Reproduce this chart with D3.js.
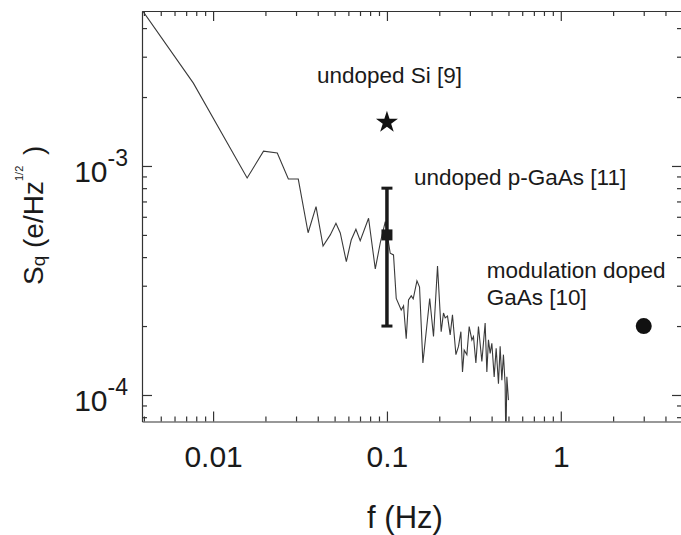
<!DOCTYPE html>
<html>
<head>
<meta charset="utf-8">
<script src="https://cdn.jsdelivr.net/npm/d3@7"></script>
<style>
  body { margin: 0; background: #fff; }
  text { font-family: "Liberation Sans", Arial, sans-serif; fill: #1a1a1a; }
</style>
</head>
<body>
<div id="chart"></div>
<script>
// Measured charge noise spectrum (f in Hz, Sq in e/Hz^1/2)
var freq = [0.0039, 0.0077, 0.0157, 0.0195, 0.0234, 0.0271, 0.0309, 0.0352, 0.0391, 0.0429,
  0.0472, 0.0509, 0.0539, 0.0584, 0.0623, 0.0663, 0.0702, 0.0784, 0.0857, 0.0915,
  0.0978, 0.1044, 0.1091, 0.1131, 0.1208, 0.1246, 0.1291, 0.1331, 0.1380, 0.1416,
  0.1488, 0.1540, 0.1610, 0.1762, 0.1853, 0.1954, 0.2051, 0.2115, 0.2163, 0.2230,
  0.2311, 0.2382, 0.2493, 0.2580, 0.2663, 0.2720, 0.2782, 0.2883, 0.2972, 0.3080,
  0.3146, 0.3248, 0.3361, 0.3516, 0.3672, 0.3756, 0.3836, 0.3924, 0.4013, 0.4138,
  0.4249, 0.4380, 0.4479, 0.4581, 0.4679, 0.4786, 0.4831, 0.4895, 0.5000];

var sq = [48.0e-4, 23.0e-4, 8.86e-4, 11.6e-4, 11.4e-4, 8.77e-4, 8.77e-4, 5.11e-4, 6.64e-4, 4.47e-4,
  5.00e-4, 5.62e-4, 5.10e-4, 3.82e-4, 4.75e-4, 5.29e-4, 4.72e-4, 5.91e-4, 3.55e-4, 4.61e-4,
  5.71e-4, 4.16e-4, 4.09e-4, 2.64e-4, 2.35e-4, 2.45e-4, 1.76e-4, 2.60e-4, 2.71e-4, 2.63e-4,
  3.15e-4, 2.96e-4, 1.38e-4, 2.64e-4, 1.80e-4, 3.66e-4, 1.89e-4, 2.28e-4, 2.17e-4, 2.21e-4,
  1.83e-4, 2.24e-4, 1.50e-4, 1.63e-4, 1.89e-4, 1.26e-4, 1.57e-4, 1.50e-4, 1.99e-4, 1.74e-4,
  1.80e-4, 1.38e-4, 1.99e-4, 1.40e-4, 2.06e-4, 1.26e-4, 1.74e-4, 1.52e-4, 1.68e-4, 1.20e-4,
  1.60e-4, 1.12e-4, 1.63e-4, 1.16e-4, 1.50e-4, 1.11e-4, 0.60e-4, 1.20e-4, 0.95e-4];

// Reference points from the literature
var siFreq = 0.1, siSq = 1.55e-3;                 // undoped Si [9]
var pGaAsFreq = 0.1, pGaAsSq = 5e-4;              // undoped p-GaAs [11]
var pGaAsLow = 2e-4, pGaAsHigh = 8e-4;
var modFreq = 3, modSq = 2e-4;                    // modulation doped GaAs [10]

// Axis ticks
var xMajor = [0.01, 0.1, 1];
var xMajorLabels = ["0.01", "0.1", "1"];
var yMajor = [1e-4, 1e-3];
var yMajorExp = ["-4", "-3"];

var svgWidth = 681;
var svgHeight = 535;

var margin = { top: 11, right: -1, bottom: 113.5, left: 142 };
var width = svgWidth - margin.left - margin.right;
var height = svgHeight - margin.top - margin.bottom;

var svg = d3.select("#chart")
  .append("svg")
  .attr("width", svgWidth)
  .attr("height", svgHeight);

var chartGroup = svg.append("g")
  .attr("transform", `translate(${margin.left}, ${margin.top})`);

var x = d3.scaleLog().domain([0.0039, 4.98]).range([0, width]);
var y = d3.scaleLog().domain([7.66e-5, 4.75e-3]).range([height, 0]);

var xMinor = x.ticks().filter(d => xMajor.indexOf(+d.toPrecision(3)) < 0);
var yMinor = y.ticks().filter(d => yMajor.indexOf(+d.toPrecision(3)) < 0);

var axisColor = "#333";

function styleAxis(g) {
  g.selectAll("path, line").attr("stroke", axisColor).attr("stroke-width", 1.2);
  g.selectAll("text").remove();
}

// bottom axis
chartGroup.append("g")
  .attr("transform", `translate(0, ${height})`)
  .call(d3.axisBottom(x).tickValues(xMinor).tickSize(-5).tickSizeOuter(0))
  .call(styleAxis);

var xLab = chartGroup.append("g")
  .attr("transform", `translate(0, ${height})`)
  .call(d3.axisBottom(x).tickValues(xMajor).tickSize(-10).tickSizeOuter(0)
    .tickFormat((d, i) => xMajorLabels[i]));
xLab.select(".domain").remove();
xLab.selectAll("line").attr("stroke", axisColor).attr("stroke-width", 1.2);
xLab.selectAll("text")
  .attr("y", 45.5)
  .attr("dy", 0)
  .attr("font-size", 30)
  .attr("fill", "#1a1a1a");

// top axis
chartGroup.append("g")
  .call(d3.axisTop(x).tickValues(xMinor).tickSize(-5).tickSizeOuter(0))
  .call(styleAxis);
chartGroup.append("g")
  .call(d3.axisTop(x).tickValues(xMajor).tickSize(-10).tickSizeOuter(0))
  .call(styleAxis);

// left axis
chartGroup.append("g")
  .call(d3.axisLeft(y).tickValues(yMinor).tickSize(-5).tickSizeOuter(0))
  .call(styleAxis);

var yLab = chartGroup.append("g")
  .call(d3.axisLeft(y).tickValues(yMajor).tickSize(-10).tickSizeOuter(0).tickPadding(14));
yLab.select(".domain").remove();
yLab.selectAll("line").attr("stroke", axisColor).attr("stroke-width", 1.2);
yLab.selectAll("text")
  .attr("dy", 0)
  .attr("y", 16)
  .attr("fill", "#1a1a1a")
  .each(function (d, i) {
    var t = d3.select(this).text("");
    t.append("tspan").attr("font-size", 30).text("10");
    t.append("tspan").attr("font-size", 23).attr("dy", -16).text(yMajorExp[i]);
  });

// right axis
chartGroup.append("g")
  .attr("transform", `translate(${width}, 0)`)
  .call(d3.axisRight(y).tickValues(yMinor).tickSize(-5).tickSizeOuter(0))
  .call(styleAxis);
chartGroup.append("g")
  .attr("transform", `translate(${width}, 0)`)
  .call(d3.axisRight(y).tickValues(yMajor).tickSize(-10).tickSizeOuter(0))
  .call(styleAxis);

// clip for the spectrum
chartGroup.append("clipPath")
  .attr("id", "plotClip")
  .append("rect")
  .attr("width", width)
  .attr("height", height);

var line = d3.line()
  .x((d, i) => x(freq[i]))
  .y(d => y(d));

chartGroup.append("path")
  .datum(sq)
  .attr("clip-path", "url(#plotClip)")
  .attr("d", line)
  .attr("fill", "none")
  .attr("stroke", "#3a3a3a")
  .attr("stroke-width", 1.1);

// star: undoped Si
chartGroup.append("path")
  .attr("d", d3.symbol(d3.symbolStar).size(150)())
  .attr("transform", `translate(${x(siFreq)}, ${y(siSq)})`)
  .attr("fill", "#111");

// error bar: undoped p-GaAs
var ex = x(pGaAsFreq);
chartGroup.append("line")
  .attr("x1", ex).attr("x2", ex)
  .attr("y1", y(pGaAsHigh)).attr("y2", y(pGaAsLow))
  .attr("stroke", "#1a1a1a").attr("stroke-width", 3.5);
[pGaAsHigh, pGaAsLow].forEach(function (v) {
  chartGroup.append("line")
    .attr("x1", ex - 5.5).attr("x2", ex + 5.5)
    .attr("y1", y(v)).attr("y2", y(v))
    .attr("stroke", "#1a1a1a").attr("stroke-width", 3);
});
chartGroup.append("rect")
  .attr("x", ex - 5.5).attr("y", y(pGaAsSq) - 5.5)
  .attr("width", 11).attr("height", 11)
  .attr("fill", "#1a1a1a");

// dot: modulation doped GaAs
chartGroup.append("circle")
  .attr("cx", x(modFreq)).attr("cy", y(modSq))
  .attr("r", 8)
  .attr("fill", "#111");

// annotations
function note(tx, ty, str) {
  chartGroup.append("text")
    .attr("x", tx).attr("y", ty)
    .attr("font-size", 22.5)
    .text(str);
}
note(x(siFreq) - 70, 83 - margin.top, "undoped Si [9]");
note(x(pGaAsFreq) + 27, 185 - margin.top, "undoped p-GaAs [11]");
note(x(modFreq) - 157, 278 - margin.top, "modulation doped");
note(x(modFreq) - 157, 305 - margin.top, "GaAs [10]");

// axis titles
svg.append("text")
  .attr("x", 405)
  .attr("y", 528)
  .attr("text-anchor", "middle")
  .attr("font-size", 31)
  .text("f (Hz)");

var yTitle = svg.append("text")
  .attr("transform", "translate(43, 285) rotate(-90)")
  .attr("font-size", 28);
yTitle.append("tspan").text("S");
yTitle.append("tspan").attr("font-size", 19).attr("dy", 2).text("q");
yTitle.append("tspan").attr("dy", -2).text(" (e/Hz");
yTitle.append("tspan").attr("font-size", 11).attr("dy", -20).text("1/2");
yTitle.append("tspan").attr("dy", 20).attr("dx", 3).text(" )");
</script>
</body>
</html>
